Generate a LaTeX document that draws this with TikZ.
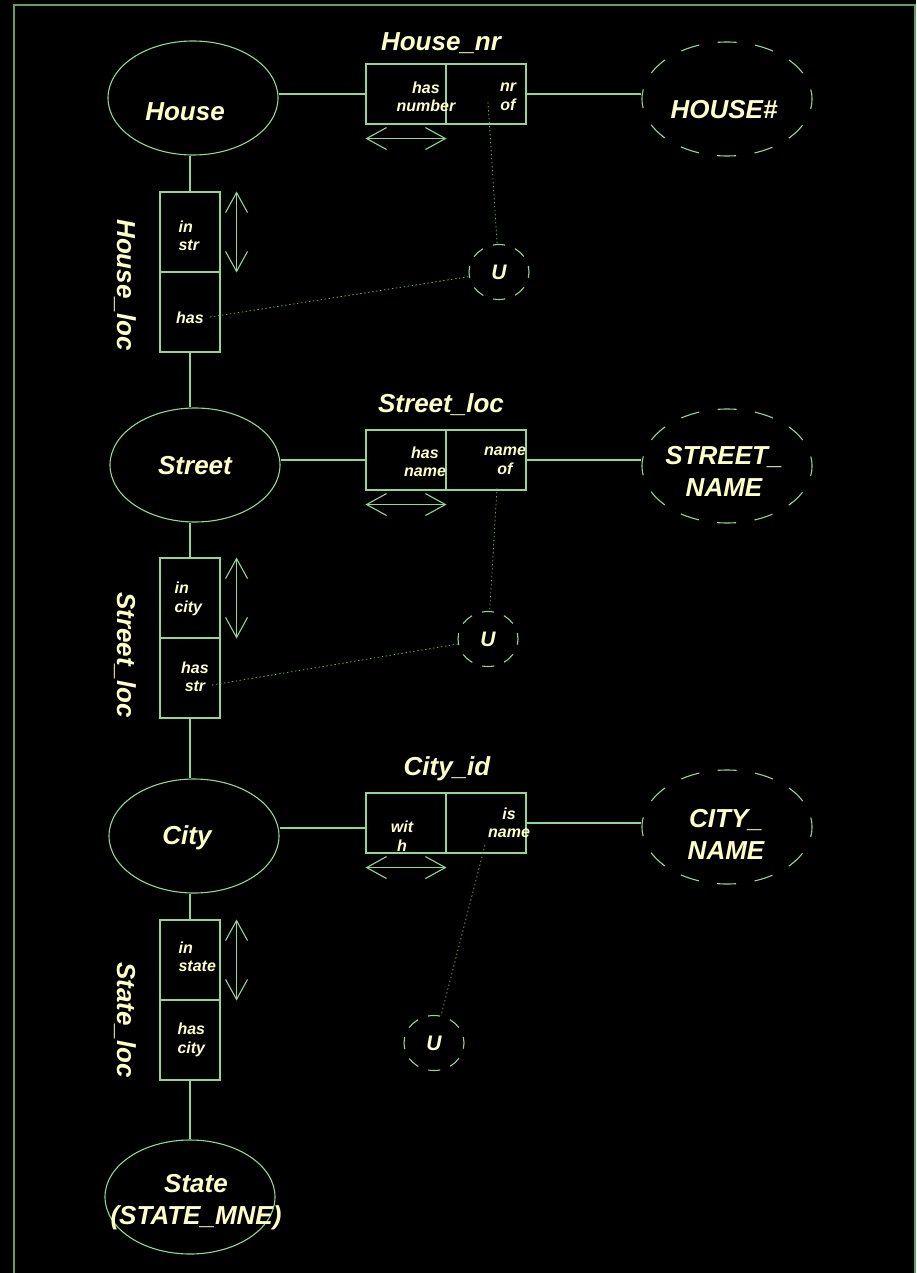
\documentclass[tikz,border=0pt]{standalone}
\usepackage{fontspec}
\setmainfont{Liberation Sans}
\usepackage{tikz}
\usetikzlibrary{positioning,arrows.meta,shapes.geometric}

\definecolor{ormline}{RGB}{145,215,145}
\definecolor{ormframe}{RGB}{95,160,95}
\definecolor{ormtext}{RGB}{255,255,200}
\definecolor{ormdot}{RGB}{105,165,105}

\begin{document}
\begin{tikzpicture}[x=1pt, y=-1pt, color=ormline, line width=1.1pt,
  bigtxt/.style={text=ormtext, font=\fontsize{26}{32}\selectfont\bfseries\itshape, align=center, inner sep=0pt},
  celltxt/.style={text=ormtext, font=\fontsize{16}{18.5}\selectfont\bfseries\itshape, align=center, inner sep=0pt},
  entity/.style={ellipse, draw, minimum width=170pt, minimum height=114pt, inner sep=0pt},
  valueobj/.style={entity, dash pattern=on 19pt off 18.5pt, dash phase=9.5pt},
  hrole/.style={rectangle, draw, minimum width=80pt, minimum height=60pt, inner sep=0pt},
  vrole/.style={rectangle, draw, minimum width=60pt, minimum height=80pt, inner sep=0pt},
  uniq/.style={ellipse, draw, dash pattern=on 12pt off 10.6pt, dash phase=6pt, minimum width=60pt, minimum height=55pt, inner sep=0pt,
    text=ormtext, font=\fontsize{21}{24}\selectfont\bfseries\itshape},
  dotline/.style={ormdot, line width=0.8pt, dash pattern=on 1.5pt off 2.5pt},
  span/.style={{Straight Barb[length=20pt,width=22pt]}-{Straight Barb[length=20pt,width=22pt]}}]

  % page and frame
  \fill[black] (0,0) rectangle (916,1273);
  \useasboundingbox (0,0) rectangle (916,1273);
  \draw[ormframe, line width=2pt] (14,1273) -- (14,5) -- (915,5) -- (915,1273);

  % entity types
  \node[entity] (house) at (193,98) {};
  \node[entity] (street) at (195,465) {};
  \node[entity] (city) at (194,836) {};
  \node[entity] (state) at (190,1197) {};

  % value types
  \node[valueobj] (housenr) at (727,99) {};
  \node[valueobj] (streetname) at (727,466) {};
  \node[valueobj] (cityname) at (727,827) {};

  % horizontal fact types
  \node[hrole] (hn-a) at (406,94) {};
  \node[hrole] (hn-b) at (486,94) {};
  \node[hrole] (sn-a) at (406,460) {};
  \node[hrole] (sn-b) at (486,460) {};
  \node[hrole] (ci-a) at (406,823) {};
  \node[hrole] (ci-b) at (486,823) {};

  % vertical fact types
  \node[vrole] (hl-a) at (190,232) {};
  \node[vrole] (hl-b) at (190,312) {};
  \node[vrole] (sl-a) at (190,598) {};
  \node[vrole] (sl-b) at (190,678) {};
  \node[vrole] (stl-a) at (190,960) {};
  \node[vrole] (stl-b) at (190,1040) {};

  % uniqueness constraints
  \node[uniq] (u1) at (499,272) {U};
  \node[uniq] (u2) at (488,639) {U};
  \node[uniq] (u3) at (434,1043) {U};

  % role connectors
  \draw (house.east |- hn-a.west) -- (hn-a.west);
  \draw (hn-b.east) -- (housenr.west |- hn-b.east);
  \draw (street.east |- sn-a.west) -- (sn-a.west);
  \draw (sn-b.east) -- (streetname.west |- sn-b.east);
  \draw ([yshift=-5pt]city.east |- ci-a.west) -- ([yshift=-5pt]ci-a.west);
  \draw (ci-b.east) -- (cityname.west |- ci-b.east);
  \draw (hl-a.north |- house.south) -- (hl-a.north);
  \draw (hl-b.south) -- (hl-b.south |- street.north);
  \draw (sl-a.north |- street.south) -- (sl-a.north);
  \draw (sl-b.south) -- (sl-b.south |- city.north);
  \draw (stl-a.north |- city.south) -- (stl-a.north);
  \draw (stl-b.south) -- (state.north);

  % spanning arrows
  \foreach \f in {hn-a, sn-a, ci-a} {
    \draw[span] ([yshift=-14pt]\f.south west) -- ([yshift=-14pt]\f.south east);
  }
  \foreach \f in {hl-a, sl-a, stl-a} {
    \draw[span] ([xshift=16pt]\f.north east) -- ([xshift=16pt]\f.south east);
  }

  % constraint lines
  \coordinate (d-hn) at (488,102);
  \coordinate (d-hl) at (210,317);
  \coordinate (d-sn) at (497,488);
  \coordinate (d-sl) at (212,685);
  \coordinate (d-ci) at (485,845);
  \draw[dotline] (d-hn) -- (u1);
  \draw[dotline] (d-hl) -- (u1);
  \draw[dotline] (d-sn) -- (u2);
  \draw[dotline] (d-sl) -- (u2);
  \draw[dotline] (d-ci) -- (u3);

  % names
  \node[bigtxt] (house-t) at (185,112) {House};
  \node[bigtxt] (street-t) at (195,466) {Street};
  \node[bigtxt] (city-t) at (187,838) {City};
  \node[bigtxt] (state-t) at (196,1202) {State\\(STATE\_MNE)};
  \node[bigtxt] (housenr-t) at (724,110) {HOUSE\#};
  \node[bigtxt] (streetname-t) at (724,471) {STREET\_\\NAME};
  \node[bigtxt] (cityname-t) at (726,834) {CITY\_\\NAME};

  \node[bigtxt] (hn-title) at (441,43) {House\_nr};
  \node[bigtxt] (sn-title) at (441,405) {Street\_loc};
  \node[bigtxt] (ci-title) at (447,769) {City\_id};
  \node[bigtxt, rotate=-90] (hl-title) at (125,285) {House\_loc};
  \node[bigtxt, rotate=-90] (sl-title) at (125,655) {Street\_loc};
  \node[bigtxt, rotate=-90] (stl-title) at (125,1020) {State\_loc};

  % role texts
  \node[celltxt] (hn-at) at (426,97) {has\\number};
  \node[celltxt] (hn-bt) at (508,97) {nr\\of};
  \node[celltxt] (sn-at) at (425,462) {has\\name};
  \node[celltxt] (sn-bt) at (505,461) {name\\of};
  \node[celltxt] (ci-at) at (402,836) {wit\\h};
  \node[celltxt] (ci-bt) at (509,823) {is\\name};
  \node[celltxt, align=left, anchor=west] (hl-at) at (178,236) {in\\str};
  \node[celltxt] (hl-bt) at (190,318) {has};
  \node[celltxt, align=left, anchor=west] (sl-at) at (174,599) {in\\city};
  \node[celltxt] (sl-bt) at (195,677) {has\\str};
  \node[celltxt, align=left, anchor=west] (stl-at) at (178,957) {in\\state};
  \node[celltxt, align=left, anchor=west] (stl-bt) at (177,1040) {has\\city};

\end{tikzpicture}
\end{document}
